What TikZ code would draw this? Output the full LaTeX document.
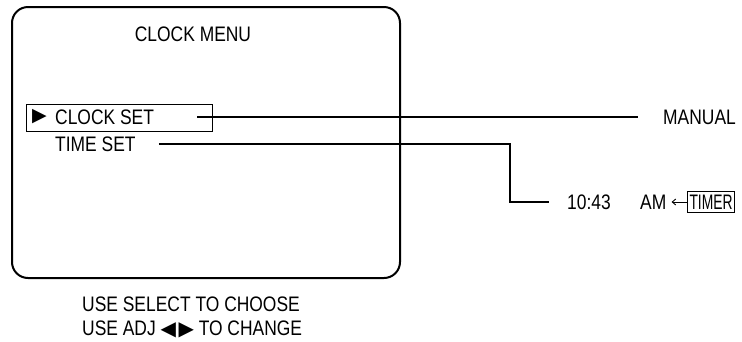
\documentclass[tikz,border=0pt]{standalone}
\usepackage{fontspec}
\setmainfont[FakeStretch=0.83]{Liberation Sans}
\newfontfamily\narrowfont[FakeStretch=0.66]{Liberation Sans}
\newfontfamily\symfont{DejaVu Sans}
\usetikzlibrary{positioning, arrows.meta}
\tikzset{
    x=1pt, y=-1pt, % one unit is one pixel of the screen shot, y runs down
    every node/.style={inner sep=0pt, font=\fontsize{21}{24}\selectfont},
    menutext/.style={anchor=west}, % texts sit by their left edge
    lead/.style={line width=1.3pt}, % the lines from the menu to its values
    pointer/.style={font=\symfont\fontsize{19}{24}\selectfont},
    >={Straight Barb[length=3.5pt, width=6pt]},
}

\begin{document}
\begin{tikzpicture}
    \useasboundingbox (0,0) rectangle (742,341);
    % the screen
    \draw[line width=2pt, rounded corners=16pt] (12,7) rectangle (400,278);
    \node (title) at (193,34) {CLOCK MENU};
    \node[draw, line width=1.3pt, anchor=north west, minimum width=186pt, minimum height=27pt] (cursorbox) at (26,104) {};
    \node[pointer, menutext] (cursor) at (32,117) {▶};
    \node[menutext] (clockset) at (55,117) {CLOCK SET};
    \node[menutext] (timeset) at (55,144) {TIME SET};
    % the values
    \node[menutext] (manual) at (663,117) {MANUAL};
    \node[menutext] (time) at (567,202) {10:43};
    \node[menutext] (ampm) at (640,202) {AM};
    \node[draw, line width=1pt, inner xsep=2pt, inner ysep=3pt, menutext, font=\narrowfont\fontsize{21}{24}\selectfont] (timer) at (687,202) {TIMER};
    \node[menutext, align=left] (hint) at (82,317) {USE SELECT TO CHOOSE\\USE ADJ {\symfont\fontsize{20}{24}\selectfont◀\kern2.5pt▶} TO CHANGE};
    \draw[lead] ([xshift=43pt]clockset.east) -- ([xshift=-25pt]manual.west);
    \draw[lead] ([xshift=23pt]timeset.east) -| ([xshift=-57pt]time.west) -- ([xshift=-18pt]time.west);
    \draw[->, line width=0.9pt, shorten >=5pt] (timer.west) -- (ampm.east);
\end{tikzpicture}
\end{document}
